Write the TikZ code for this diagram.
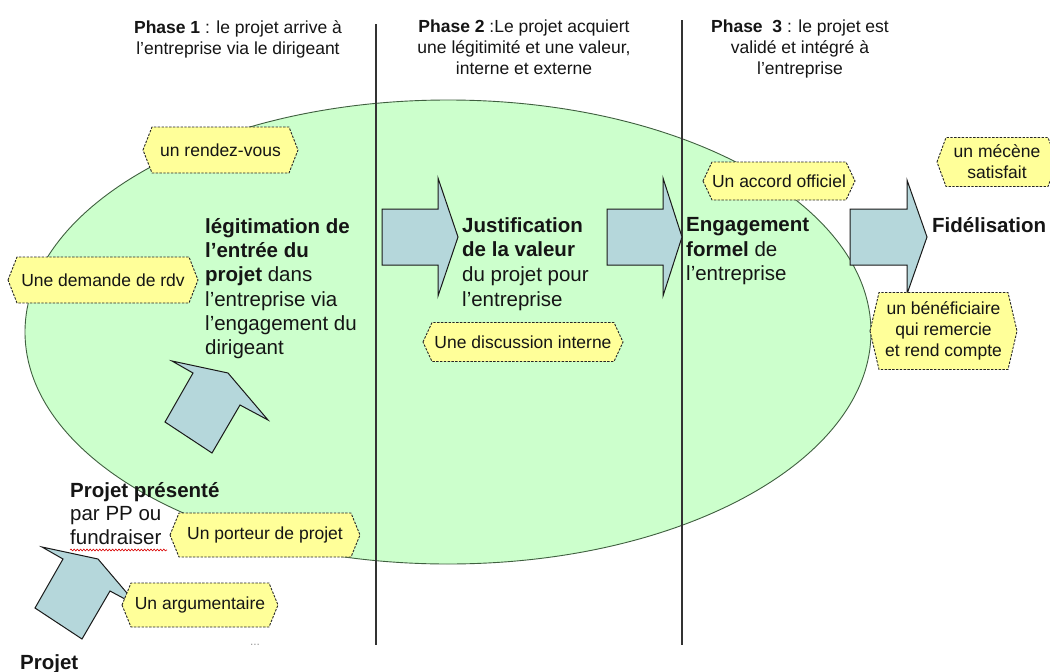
\documentclass[tikz,border=0pt]{standalone}
\usepackage{fontspec}
\setmainfont{Liberation Sans}
\usetikzlibrary{decorations.pathmorphing}
\definecolor{ellfill}{HTML}{CCFFCC}
\definecolor{elldraw}{HTML}{3F5F3F}
\definecolor{arrfill}{HTML}{B5D7DB}
\definecolor{hexfill}{HTML}{FFFF99}
\definecolor{txt}{HTML}{151515}
\newcommand\hexlabel[6]{% name, cx, cy, w, h, text
  \path[hexshape] ({#2-#4/2},{#3}) -- ({#2-#4/2+9},{#3-#5/2}) -- ({#2+#4/2-9},{#3-#5/2})
     -- ({#2+#4/2},{#3}) -- ({#2+#4/2-9},{#3+#5/2}) -- ({#2-#4/2+9},{#3+#5/2}) -- cycle;
  \node[hextext] (#1) at (#2,#3) {#6};
}
\begin{document}
\begin{tikzpicture}[x=1pt,y=-1pt,
  phase/.style={align=center, font=\fontsize{17.5}{21}\selectfont, text=txt, inner sep=0pt},
  main/.style={align=left, font=\fontsize{20.5}{24.3}\selectfont, text=txt, inner sep=0pt},
  hextext/.style={align=center, font=\fontsize{17.5}{21.2}\selectfont, text=txt, inner sep=0pt},
  hexshape/.style={fill=hexfill, draw=black!85, dash pattern=on 2.4pt off 1.4pt, line width=0.9pt},
  blockarrow/.style={fill=arrfill, draw=black!90, line width=1pt, line join=miter},
  divider/.style={draw=black!80, line width=1.3pt},
]
\useasboundingbox[fill=white] (0,0) rectangle (1050,672);

% ellipse
\draw[fill=ellfill, draw=elldraw, line width=0.9pt] (448,332) ellipse [x radius=423pt, y radius=232pt];

% dividers
\coordinate (d1t) at (376,24); \coordinate (d1b) at (376,645);
\coordinate (d2t) at (682,20); \coordinate (d2b) at (682,645);
\draw[divider] (d1t) -- (d1b);
\draw[divider] (d2t) -- (d2b);

% phase headers
\node[phase, anchor=north] (ph1) at (238,20) {\textbf{Phase 1} : le projet arrive à\\l’entreprise via le dirigeant};
\node[phase, anchor=north] (ph2) at (524,20) {\textbf{Phase 2} :Le projet acquiert\\une légitimité et une valeur,\\interne et externe};
\node[phase, anchor=north] (ph3) at (800,20) {\textbf{Phase~ 3} : le projet est\\validé et intégré à\\l’entreprise};

% block arrows
\path[blockarrow] (382,209) -- (438,209) -- (438,178) -- (458,237) -- (438,296) -- (438,265) -- (382,265) -- cycle;
\path[blockarrow] (607,209) -- (663,209) -- (663,178) -- (682,237) -- (663,296) -- (663,265) -- (607,265) -- cycle;
\path[blockarrow] (850,209) -- (907,209) -- (907,180) -- (927,237) -- (907,294) -- (907,265) -- (850,265) -- cycle;
\path[blockarrow] (172,361) -- (228,373) -- (268,420) -- (240,405) -- (212,453) -- (165,422) -- (193,373) -- cycle;
\path[blockarrow] (42,547) -- (98,559) -- (138,606) -- (110,591) -- (82,639) -- (35,608) -- (63,559) -- cycle;

% main texts
\node[main, anchor=north west] (leg) at (205,218) {\textbf{légitimation de}\\\textbf{l’entrée du}\\\textbf{projet} dans\\l’entreprise via\\l’engagement du\\dirigeant};
\node[main, anchor=north west, font=\fontsize{20.5}{24.8}\selectfont] (just) at (462,217) {\textbf{Justification}\\\textbf{de la valeur}\\du projet pour\\l’entreprise};
\node[main, anchor=north west, font=\fontsize{20.5}{24.8}\selectfont] (eng) at (686,217) {\textbf{Engagement}\\\textbf{formel} de\\l’entreprise};
\node[main, anchor=north west] (fid) at (932,217) {\textbf{Fidélisation}};
\node[main, anchor=north west, font=\fontsize{20.5}{23.5}\selectfont] (pp) at (70,482) {\textbf{Projet présenté}\\par PP ou\\fundraiser};
\node[main, anchor=north west] (proj) at (20,654) {\textbf{Projet}};
\draw[red!85!black, line width=0.6pt, decorate, decoration={snake, amplitude=0.9pt, segment length=3.2pt}] (70,550) -- (167,550);

% hexagon labels
\hexlabel{hr}{220.5}{150}{155}{46}{un rendez-vous}
\hexlabel{hd}{103}{280}{190}{46}{Une demande de rdv}
\hexlabel{hdi}{523}{342}{200}{39}{Une discussion interne}
\hexlabel{ha}{779}{181}{152}{38}{Un accord officiel}
\hexlabel{hm}{997}{162}{120}{49}{un mécène\\satisfait}
\hexlabel{hb}{943.5}{331}{147}{77}{un bénéficiaire\\qui remercie\\et rend compte}
\hexlabel{hp}{265}{535}{190}{44}{Un porteur de projet}
\hexlabel{hg}{200}{605}{156}{44}{Un argumentaire}

\node[text=black!40, font=\fontsize{12}{12}\selectfont, inner sep=0pt] (dots) at (255,645) {...};
\end{tikzpicture}
\end{document}
